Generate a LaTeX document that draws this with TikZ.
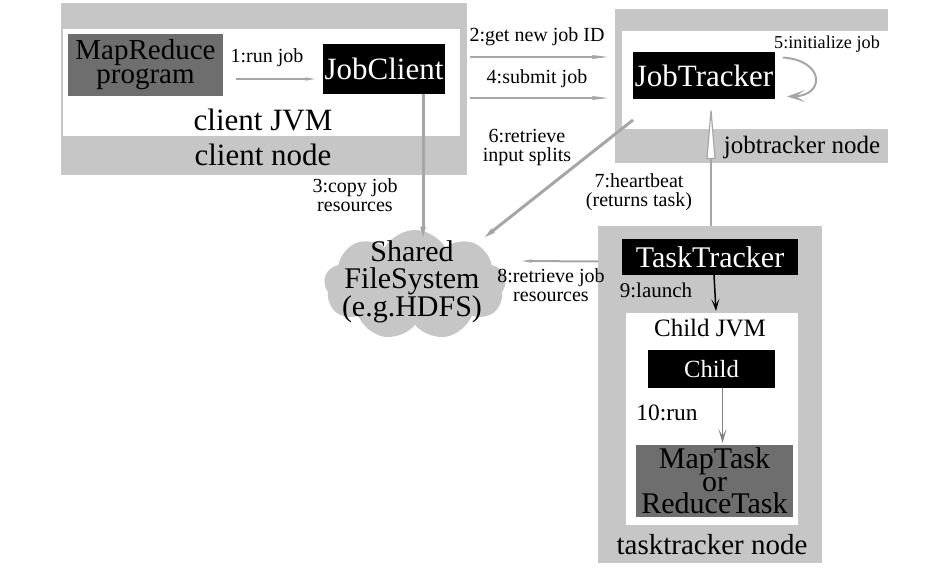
\documentclass[tikz,border=0pt]{standalone}
\usepackage{fontspec}
\setmainfont{Liberation Serif}
\usetikzlibrary{arrows.meta,shapes.symbols}
\definecolor{nodegrey}{HTML}{C6C6C6}
\definecolor{arrgrey}{HTML}{A6A6A6}
\definecolor{boxgrey}{HTML}{6E6E6E}
\begin{document}
\begin{tikzpicture}[x=1pt,y=-1pt,
 region/.style={fill=nodegrey, inner sep=0pt, outer sep=0pt, anchor=north west},
 jvm/.style={fill=white, inner sep=0pt, outer sep=0pt, anchor=north west},
 blackbox/.style={fill=black, text=white, inner sep=0pt, outer sep=0pt, anchor=north west, font=\fontsize{31}{30}\selectfont},
 greybox/.style={fill=boxgrey, text=black, inner sep=0pt, outer sep=0pt, anchor=north west, align=center, font=\fontsize{29}{24}\selectfont},
 big/.style={font=\fontsize{31}{30}\selectfont, inner sep=0pt},
 lab/.style={font=\fontsize{20}{19}\selectfont, inner sep=0pt, align=center},
 garrow/.style={draw=arrgrey, line width=2pt, -{Stealth[length=40pt,width=10pt,inset=24pt]}},
 bigarrow/.style={draw=arrgrey, line width=3pt, -{Stealth[length=40pt,width=22pt,inset=31pt]}},
]
\useasboundingbox (0,0) rectangle (948,578);
% client node
\node[region, minimum width=406pt, minimum height=172pt] (cn) at (61,3) {};
\node[jvm, minimum width=397pt, minimum height=107pt] (cjvm) at (63,29) {};
\node[greybox, minimum width=155pt, minimum height=62pt] (mr) at (68,34) {MapReduce\\program};
\node[blackbox, minimum width=122pt, minimum height=50pt] (jc) at (323,44) {JobClient};
\node[big] (cjvmt) at (263,120) {client JVM};
\node[big] (cnt) at (263,155) {client node};
\node[lab] (l1) at (267,58) {1:run job};
\draw[draw=arrgrey, line width=2pt, -{Stealth[length=26pt,width=9pt,inset=15pt]}] ([shift={(13,14)}]mr.east) -- ([shift={(-8,10)}]jc.west);
% jobtracker node
\node[region, minimum width=273pt, minimum height=154pt] (jtn) at (615,9) {};
\node[jvm, minimum width=266pt, minimum height=98pt] (jtjvm) at (622,31) {};
\node[blackbox, minimum width=142pt, minimum height=47pt] (jt) at (633,52) {JobTracker};
\node[big, font=\fontsize{25}{26}\selectfont] (jtnt) at (802,147) {jobtracker node};
\node[lab] (l2) at (537,37) {2:get new job ID};
\node[lab] (l4) at (537,79) {4:submit job};
\draw[garrow] ([shift={(3,-32)}]cn.east) -- ([shift={(-7,-29)}]jtn.west);
\draw[garrow] ([shift={(3,9)}]cn.east) -- ([shift={(-7,12)}]jtn.west);
\node[lab, font=\fontsize{18.2}{17}\selectfont] (l5) at (827,44) {5:initialize job};
\draw[draw=arrgrey, line width=2pt, -{Stealth[length=18pt,width=12pt,inset=9pt]}] ([shift={(8,-18)}]jt.east) .. controls ([shift={(50,-15)}]jt.east) and ([shift={(50,20)}]jt.east) .. ([shift={(12,21)}]jt.east);
% shared file system
\node[cloud, cloud puffs=9, cloud puff arc=120, fill=nodegrey, minimum width=182pt, minimum height=110pt, inner sep=0pt, aspect=1.7] (fs) at (415,285) {};
\node[font=\fontsize{30}{27}\selectfont, align=center, inner sep=0pt] (fst) at (412,282) {Shared\\FileSystem\\(e.g.HDFS)};
\node[lab] (l3) at (355,195) {3:copy job\\resources};
\draw[bigarrow] ([xshift=39]jc.south) -- ([shift={(8,-48)}]fs.center);
\node[lab] (l6) at (527,148) {6:retrieve\\input splits};
\draw[bigarrow] ([shift={(11,-9)}]jtjvm.south west) -- ([shift={(70,-48)}]fs.center);
% tasktracker node
\node[region, minimum width=224pt, minimum height=337pt] (ttn) at (598,226) {};
\node[blackbox, minimum width=176pt, minimum height=36pt, font=\fontsize{30}{30}\selectfont] (tt) at (622,239) {TaskTracker};
\node[jvm, minimum width=172pt, minimum height=212pt] (cjvm2) at (626,313) {};
\node[big, font=\fontsize{25}{26}\selectfont] (cjvm2t) at (710,328) {Child JVM};
\node[blackbox, minimum width=127pt, minimum height=38pt, font=\fontsize{24.7}{26}\selectfont] (child) at (648,350) {Child};
\node[greybox, minimum width=157pt, minimum height=72pt, font=\fontsize{30}{22.5}\selectfont] (task) at (636,445) {MapTask\\or\\ReduceTask};
\node[big, font=\fontsize{29}{30}\selectfont] (ttnt) at (712,545) {tasktracker node};
\node[lab, font=\fontsize{21}{20}\selectfont] (l9) at (656,290) {9:launch};
\draw[draw=black, line width=1.5pt, -{Stealth[length=12pt,width=8pt,inset=6pt]}] ([xshift=4]tt.south) -- ([shift={(4,-2)}]cjvm2.north);
\node[lab, font=\fontsize{23.4}{22}\selectfont] (l10) at (667,413) {10:run};
\draw[draw=gray, line width=1.5pt, -{Stealth[length=14pt,width=8pt,inset=7pt]}] ([xshift=11]child.south) -- ([shift={(8,-2)}]task.north);
\node[lab] (l7) at (639,192) {7:heartbeat\\(returns task)};
\draw[draw=arrgrey, line width=1.2pt, -{Stealth[length=56pt,width=9pt,inset=0pt,fill=white]}] ([xshift=1]ttn.north) -- ([shift={(7,4)}]jt.south);
\node[lab] (l8) at (551,285) {8:retrieve job\\resources};
\draw[draw=arrgrey, line width=2pt, -{Stealth[length=26pt,width=9pt,inset=15pt]}] ([shift={(0,-133)}]ttn.west) -- ([shift={(107,-24)}]fs.center);
\end{tikzpicture}
\end{document}
